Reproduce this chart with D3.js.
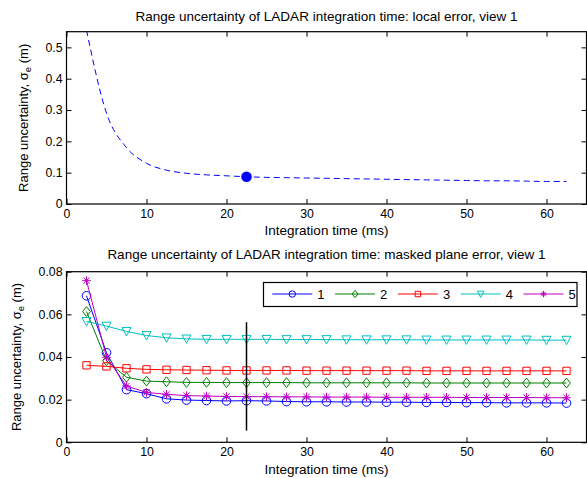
<!DOCTYPE html>
<html>
<head>
<meta charset="utf-8">
<script src="https://cdn.jsdelivr.net/npm/d3@7"></script>
<style>
body{margin:0;background:#fff;}
svg{display:block;font-family:"Liberation Sans",Arial,Helvetica,sans-serif;}
</style>
</head>
<body>
<svg id="chart" width="587" height="478"></svg>
<script>
// top panel: local error
var timeTop = [2.5, 5, 7.5, 10, 12.5, 15, 17.5, 20, 22.5, 25, 27.5, 30, 32.5, 35, 37.5, 40, 42.5, 45, 47.5, 50, 52.5, 55, 57.5, 60, 62.5];
var errTop = [0.555, 0.29, 0.18, 0.13, 0.108, 0.098, 0.093, 0.09, 0.087, 0.085, 0.084, 0.083, 0.082, 0.081, 0.080, 0.079, 0.078, 0.077, 0.076, 0.075, 0.074, 0.074, 0.073, 0.072, 0.072];
var markTime = 22.5;
var markErr = 0.087;

// bottom panel: masked plane error
var time = [2.5, 5, 7.5, 10, 12.5, 15, 17.5, 20, 22.5, 25, 27.5, 30, 32.5, 35, 37.5, 40, 42.5, 45, 47.5, 50, 52.5, 55, 57.5, 60, 62.5];
var err1 = [0.0687, 0.042, 0.0247, 0.0228, 0.0204, 0.0198, 0.0196, 0.0194, 0.0195, 0.0194, 0.0191, 0.0190, 0.0190, 0.0189, 0.0189, 0.0188, 0.0188, 0.0187, 0.0187, 0.0186, 0.0186, 0.0185, 0.0185, 0.0185, 0.0184];
var err2 = [0.0613, 0.0383, 0.0305, 0.0287, 0.0284, 0.0281, 0.0281, 0.0280, 0.0280, 0.0280, 0.0280, 0.0279, 0.0279, 0.0279, 0.0279, 0.0279, 0.0279, 0.0278, 0.0278, 0.0278, 0.0278, 0.0278, 0.0278, 0.0278, 0.0278];
var err3 = [0.0361, 0.0356, 0.0347, 0.0342, 0.0340, 0.0339, 0.0338, 0.0337, 0.0337, 0.0337, 0.0337, 0.0336, 0.0336, 0.0336, 0.0336, 0.0336, 0.0336, 0.0335, 0.0335, 0.0335, 0.0335, 0.0335, 0.0335, 0.0335, 0.0335];
var err4 = [0.0567, 0.0545, 0.0520, 0.0501, 0.0490, 0.0485, 0.0483, 0.0483, 0.0483, 0.0483, 0.0482, 0.0482, 0.0482, 0.0481, 0.0481, 0.0481, 0.0481, 0.0480, 0.0480, 0.0480, 0.0480, 0.0480, 0.0480, 0.0479, 0.0479];
var err5 = [0.0758, 0.0399, 0.0264, 0.0234, 0.0225, 0.0219, 0.0217, 0.0215, 0.0214, 0.0214, 0.0213, 0.0213, 0.0212, 0.0212, 0.0212, 0.0211, 0.0211, 0.0211, 0.0211, 0.0210, 0.0210, 0.0210, 0.0210, 0.0209, 0.0209];
var seriesNames = ['1', '2', '3', '4', '5'];
var seriesColors = ['#0000ff', '#008000', '#ff0000', '#00bfbf', '#bf00bf'];
var seriesMarkers = ['circle', 'diamond', 'square', 'triangle', 'star'];
var cursorTime = 22.5, cursorLow = 0.0055, cursorHigh = 0.0563;

var xTicks = [0, 10, 20, 30, 40, 50, 60];
var yTicksTop = [0, 0.1, 0.2, 0.3, 0.4, 0.5];
var yTicksBottom = [0, 0.02, 0.04, 0.06, 0.08];

var svg = d3.select('#chart');
var left = 66.5, right = 586.5;

function markerPath(type, s){
	// s = half size
	if(type == 'circle')
		return `M${-s},0a${s},${s} 0 1,0 ${2*s},0a${s},${s} 0 1,0 ${-2*s},0Z`;
	if(type == 'diamond')
		return `M0,${-s*1.15}L${s*0.9},0L0,${s*1.15}L${-s*0.9},0Z`;
	if(type == 'square'){
		let a = s*0.85;
		return `M${-a},${-a}H${a}V${a}H${-a}Z`;
	}
	if(type == 'triangle')
		return `M${-s*1.05},${-s*0.9}H${s*1.05}L0,${s*1.05}Z`;
	let b = s*0.72;
	return `M${-s},0H${s}M0,${-s}V${s}M${-b},${-b}L${b},${b}M${-b},${b}L${b},${-b}`;
}

function makeFrame(top, bottom, yMax, yTicks, fmt){
	const x = d3.scaleLinear().domain([0, 65]).range([left, right]);
	const y = d3.scaleLinear().domain([0, yMax]).range([bottom, top]);
	const g = svg.append('g');
	g.append('g')
		.attr('transform', `translate(0, ${bottom})`)
		.call(d3.axisBottom(x).tickValues(xTicks).tickSize(-5).tickPadding(5).tickFormat(d3.format('d')));
	g.append('g')
		.attr('transform', `translate(0, ${top})`)
		.call(d3.axisTop(x).tickValues(xTicks).tickSize(-5).tickFormat(''));
	g.append('g')
		.attr('transform', `translate(${left}, 0)`)
		.call(d3.axisLeft(y).tickValues(yTicks).tickSize(-5).tickPadding(4).tickFormat(fmt));
	g.append('g')
		.attr('transform', `translate(${right}, 0)`)
		.call(d3.axisRight(y).tickValues(yTicks).tickSize(-5).tickFormat(''));
	g.selectAll('.domain').remove();
	g.selectAll('.tick line').attr('stroke', '#000');
	g.selectAll('.tick text')
		.attr('fill', '#000')
		.style('font-size', '12.3px')
		.style('font-family', '"Liberation Sans",Arial,sans-serif');
	g.append('rect')
		.attr('x', left)
		.attr('y', top)
		.attr('width', right - left)
		.attr('height', bottom - top)
		.attr('fill', 'none')
		.attr('stroke', '#000')
		.attr('stroke-width', 1.2);
	return {x: x, y: y, g: g};
}

function addLabels(top, bottom, title, titleY, xLabelY, yLabelX){
	svg.append('text')
		.attr('x', (left + right) / 2)
		.attr('y', titleY)
		.attr('text-anchor', 'middle')
		.style('font-size', '13.5px')
		.text(title);
	svg.append('text')
		.attr('x', (left + right) / 2)
		.attr('y', xLabelY)
		.attr('text-anchor', 'middle')
		.style('font-size', '13.5px')
		.text('Integration time (ms)');
	const yl = svg.append('text')
		.attr('transform', `translate(${yLabelX}, ${(top + bottom) / 2}) rotate(-90)`)
		.attr('text-anchor', 'middle')
		.style('font-size', '13px');
	yl.append('tspan').text('Range uncertainty, \u03c3');
	yl.append('tspan').attr('dy', 3).style('font-size', '9.5px').text('e');
	yl.append('tspan').attr('dy', -3).text(' (m)');
}

// ---- top panel
var p1 = makeFrame(31.7, 204, 0.55, yTicksTop, d => d == 0 ? '0' : d3.format('.1f')(d));
addLabels(31.7, 204, 'Range uncertainty of LADAR integration time: local error, view 1', 20.5, 235, 27.5);

svg.append('clipPath').attr('id', 'clipTop')
	.append('rect').attr('x', left).attr('y', 31.7).attr('width', right - left).attr('height', 204 - 31.7);

p1.g.append('path')
	.datum(timeTop.map((t, i) => [t, errTop[i]]))
	.attr('clip-path', 'url(#clipTop)')
	.attr('fill', 'none')
	.attr('stroke', '#0000ff')
	.attr('stroke-width', 1)
	.attr('stroke-dasharray', '6,4')
	.attr('d', d3.line().curve(d3.curveMonotoneX).x(d => p1.x(d[0])).y(d => p1.y(d[1])));

p1.g.append('circle')
	.attr('cx', p1.x(markTime))
	.attr('cy', p1.y(markErr))
	.attr('r', 5.3)
	.attr('fill', '#0000ff');

// ---- bottom panel
var p2 = makeFrame(271.7, 442.3, 0.08, yTicksBottom, d => d == 0 ? '0' : d3.format('.2f')(d));
addLabels(271.7, 442.3, 'Range uncertainty of LADAR integration time: masked plane error, view 1', 259, 473.5, 20.8);

var allErr = [err1, err2, err3, err4, err5];
allErr.forEach(function(vals, k){
	const pts = time.map((t, i) => [t, vals[i]]);
	const sg = p2.g.append('g');
	sg.append('path')
		.datum(pts)
		.attr('fill', 'none')
		.attr('stroke', seriesColors[k])
		.attr('stroke-width', 1)
		.attr('d', d3.line().x(d => p2.x(d[0])).y(d => p2.y(d[1])));
	sg.selectAll('path.mk')
		.data(pts)
		.enter().append('path')
			.attr('class', 'mk')
			.attr('transform', d => `translate(${p2.x(d[0])}, ${p2.y(d[1])})`)
			.attr('d', markerPath(seriesMarkers[k], 4.3))
			.attr('fill', 'none')
			.attr('stroke', seriesColors[k])
			.attr('stroke-width', 1);
});

p2.g.append('line')
	.attr('x1', p2.x(cursorTime))
	.attr('x2', p2.x(cursorTime))
	.attr('y1', p2.y(cursorLow))
	.attr('y2', p2.y(cursorHigh))
	.attr('stroke', '#000')
	.attr('stroke-width', 1.5);

// legend
var legX = 263.5, legY = 282.5, legW = 313.5, legH = 24;
var leg = svg.append('g');
leg.append('rect')
	.attr('x', legX).attr('y', legY).attr('width', legW).attr('height', legH)
	.attr('fill', '#fff').attr('stroke', '#000').attr('stroke-width', 1.2);
seriesNames.forEach(function(name, k){
	const cx = 292.3 + k * 62.8;
	const cy = legY + legH / 2 - 0.5;
	leg.append('line')
		.attr('x1', cx - 20).attr('x2', cx + 20)
		.attr('y1', cy).attr('y2', cy)
		.attr('stroke', seriesColors[k]).attr('stroke-width', 1);
	leg.append('path')
		.attr('transform', `translate(${cx}, ${cy})`)
		.attr('d', markerPath(seriesMarkers[k], 3.2))
		.attr('fill', 'none')
		.attr('stroke', seriesColors[k])
		.attr('stroke-width', 1);
	leg.append('text')
		.attr('x', cx + 25)
		.attr('y', cy + 4.5)
		.style('font-size', '13px')
		.text(name);
});
</script>
</body>
</html>
